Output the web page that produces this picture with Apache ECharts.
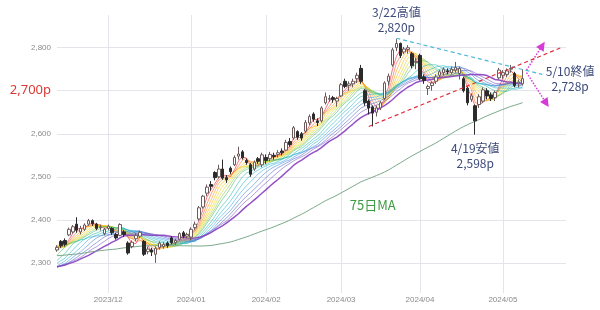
<!DOCTYPE html>
<html>
<head>
<meta charset="utf-8">
<script src="https://cdn.jsdelivr.net/npm/echarts@6/dist/echarts.min.js"></script>
<style>
html, body { margin: 0; padding: 0; background: #fff; }
#chart { width: 600px; height: 310px; }
</style>
</head>
<body>
<div id="chart"></div>
<script>
// exchange holidays that fall on weekdays inside the window
const holidays = ['2023-11-23', '2024-01-01', '2024-01-02', '2024-01-03', '2024-01-08',
  '2024-02-12', '2024-02-23', '2024-03-20', '2024-04-29', '2024-05-03', '2024-05-06'];
const firstDay = '2023-11-13';
const totalDays = 130; // 119 sessions + empty room on the right

// daily candles [open, close, low, high]
const ohlc = [
  [2330, 2336, 2326, 2341], [2350, 2340, 2335, 2353], [2352, 2343, 2338, 2357], [2365, 2378, 2362, 2382],
  [2372, 2384, 2368, 2388], [2390, 2376, 2370, 2406], [2372, 2380, 2366, 2386], [2378, 2388, 2374, 2392],
  [2390, 2398, 2386, 2402], [2398, 2391, 2386, 2401], [2390, 2380, 2376, 2393], [2382, 2384, 2375, 2389],
  [2368, 2378, 2364, 2381],
  // Dec
  [2380, 2385, 2376, 2389], [2380, 2370, 2365, 2383], [2366, 2358, 2354, 2370], [2364, 2389, 2362, 2392],
  [2372, 2366, 2360, 2376], [2346, 2323, 2319, 2350], [2338, 2348, 2334, 2352], [2356, 2364, 2350, 2369],
  [2362, 2371, 2358, 2375], [2350, 2320, 2316, 2353], [2326, 2332, 2320, 2338], [2330, 2325, 2316, 2335],
  [2320, 2334, 2300, 2338], [2336, 2346, 2331, 2350], [2338, 2343, 2333, 2348], [2346, 2340, 2335, 2350],
  [2358, 2347, 2343, 2362], [2347, 2352, 2342, 2356], [2355, 2368, 2352, 2371], [2370, 2362, 2357, 2374],
  [2362, 2366, 2357, 2370],
  // Jan
  [2360, 2378, 2352, 2383], [2382, 2390, 2376, 2396], [2402, 2428, 2398, 2432], [2430, 2455, 2426, 2458],
  [2462, 2476, 2455, 2482], [2482, 2478, 2468, 2490], [2510, 2498, 2492, 2513], [2500, 2518, 2496, 2528],
  [2518, 2497, 2493, 2540], [2498, 2493, 2486, 2504], [2520, 2512, 2506, 2524], [2528, 2545, 2525, 2550],
  [2548, 2553, 2540, 2570], [2558, 2544, 2540, 2562], [2538, 2533, 2528, 2542], [2528, 2506, 2500, 2532],
  [2518, 2534, 2514, 2538], [2542, 2536, 2530, 2546], [2528, 2551, 2522, 2556],
  // Feb
  [2545, 2538, 2530, 2552], [2542, 2552, 2536, 2558], [2550, 2547, 2540, 2556], [2552, 2556, 2545, 2562],
  [2560, 2556, 2550, 2566], [2562, 2580, 2560, 2586], [2582, 2575, 2570, 2590], [2590, 2614, 2586, 2618],
  [2605, 2592, 2586, 2608], [2600, 2590, 2584, 2604], [2606, 2626, 2602, 2632], [2625, 2640, 2620, 2645],
  [2646, 2634, 2628, 2650], [2630, 2626, 2618, 2636], [2630, 2660, 2626, 2664], [2672, 2686, 2668, 2696],
  [2680, 2682, 2674, 2690], [2684, 2680, 2672, 2688], [2676, 2682, 2663, 2686],
  // Mar
  [2688, 2714, 2685, 2718], [2722, 2710, 2706, 2728], [2712, 2716, 2700, 2722], [2716, 2722, 2708, 2728],
  [2728, 2736, 2718, 2742], [2752, 2722, 2716, 2760], [2700, 2672, 2665, 2704], [2676, 2660, 2645, 2680],
  [2662, 2648, 2617, 2666], [2650, 2660, 2640, 2666], [2660, 2672, 2655, 2676], [2682, 2718, 2678, 2722],
  [2722, 2734, 2712, 2740], [2760, 2795, 2756, 2800], [2800, 2810, 2792, 2820], [2810, 2782, 2776, 2812],
  [2790, 2797, 2785, 2802], [2796, 2800, 2786, 2806], [2786, 2758, 2752, 2790], [2766, 2768, 2750, 2776],
  // Apr
  [2782, 2728, 2724, 2786], [2732, 2724, 2716, 2738], [2705, 2710, 2690, 2714], [2712, 2718, 2700, 2722],
  [2722, 2732, 2716, 2738], [2736, 2744, 2730, 2748], [2742, 2750, 2736, 2754], [2746, 2744, 2738, 2752],
  [2742, 2750, 2738, 2756], [2748, 2754, 2742, 2767], [2740, 2752, 2726, 2756], [2728, 2700, 2696, 2732],
  [2706, 2672, 2666, 2710], [2680, 2688, 2674, 2694], [2665, 2630, 2598, 2668], [2668, 2686, 2660, 2692],
  [2676, 2702, 2672, 2708], [2700, 2688, 2680, 2706], [2690, 2682, 2676, 2696], [2684, 2696, 2676, 2700],
  [2730, 2748, 2726, 2753],
  // May
  [2736, 2742, 2728, 2748], [2738, 2746, 2732, 2752], [2750, 2752, 2742, 2760], [2740, 2712, 2708, 2744],
  [2716, 2720, 2708, 2726], [2716, 2728, 2712, 2750]
];

// closes before the first visible day (late Jul - Nov 10), only used to seed the averages
const warmupCloses = [
  2290, 2300, 2290, 2322,
  2330, 2295, 2275, 2280, 2284, 2300, 2297, 2305, 2302, 2310, 2296, 2277, 2263, 2265, 2279, 2281,
  2296, 2283, 2306, 2314, 2320, 2332,
  2346, 2357, 2356, 2362, 2355, 2369, 2368, 2400, 2406, 2430, 2444, 2437, 2428, 2394, 2389, 2390,
  2365, 2371, 2337, 2323,
  2334, 2303, 2258, 2271, 2276, 2294, 2303, 2311, 2286, 2267, 2284, 2294, 2263, 2255, 2246, 2254,
  2270, 2236, 2253, 2240, 2254,
  2296, 2342, 2372, 2331, 2327, 2341, 2336
];

const maPeriods = [3, 4, 5, 6, 7, 8, 9, 10, 12, 14, 16, 18, 20, 22, 25];
const maColors = ['#e60012', '#f0541e', '#f39800', '#f6b300', '#f0cc00', '#c5d81a', '#8dc63f', '#3fb46b',
  '#1ab39a', '#12b5c6', '#2aa4e0', '#2f7fd6', '#4a5cc8', '#6a4bbf', '#8a3fc0'];
const longPeriod = 75;

// annotated points
const highNote = { date: '2024-03-22', value: 2820, word: '高値' };
const lowNote = { date: '2024-04-19', value: 2598, word: '安値' };
const closeNote = { date: '2024-05-10', value: 2728, word: '終値' };
const maNote = { date: '2024-03-13', value: 2434, text: '75日MA' };
const markedLevel = 2700;

// hand-drawn trend lines [date, value] pairs
const resistLine = [['2024-03-22', 2822], ['2024-05-17', 2738]];
const supportLine = [['2024-03-12', 2617], ['2024-05-24', 2801]];
const arrowUp = [['2024-05-13', 2748], ['2024-05-17', 2805]];
const arrowDown = [['2024-05-13', 2742], ['2024-05-20', 2671]];

// trading-day categories
const dates = [];
let d = new Date(firstDay + 'T00:00:00Z');
while (dates.length < totalDays) {
  const s = d.toISOString().slice(0, 10);
  const wd = d.getUTCDay();
  if (wd !== 0 && wd !== 6 && holidays.indexOf(s) < 0) dates.push(s);
  d.setUTCDate(d.getUTCDate() + 1);
}
const monthStart = dates.map((s, i) => i > 0 && s.slice(5, 7) !== dates[i - 1].slice(5, 7));

const allCloses = warmupCloses.concat(ohlc.map(r => r[1]));
function sma (n) {
  const off = warmupCloses.length;
  return ohlc.map((r, i) => {
    let s = 0;
    for (let k = 0; k < n; k++) s += allCloses[off + i - k];
    return +(s / n).toFixed(2);
  });
}

const fmt = v => Math.round(v).toLocaleString('en-US');
const md = s => (+s.slice(5, 7)) + '/' + (+s.slice(8, 10));
const cjk = '"Noto Sans CJK JP", "Noto Sans", sans-serif';
const noteColor = '#3d4a7a';

const chart = echarts.init(document.getElementById('chart'));

const series = maPeriods.map((n, k) => {
  const last = k === maPeriods.length - 1;
  return {
    type: 'line',
    name: 'MA' + n,
    data: sma(n),
    symbol: 'none',
    silent: true,
    z: 2,
    lineStyle: { color: maColors[k], width: last ? 1.5 : 0.9, opacity: last ? 0.9 : 0.6 }
  };
});

series.push({
  type: 'line',
  name: 'MA75',
  data: sma(longPeriod),
  symbol: 'none',
  silent: true,
  z: 2,
  lineStyle: { color: '#7aa98a', width: 1 },
  markLine: {
    silent: true,
    symbol: ['none', 'triangle'],
    symbolSize: 9,
    label: { show: false },
    lineStyle: { color: '#d63bd6', type: 'dotted', width: 1.5 },
    data: [
      [{ coord: arrowUp[0] }, { coord: arrowUp[1] }],
      [{ coord: arrowDown[0] }, { coord: arrowDown[1] }]
    ]
  }
});

series.push({
  type: 'candlestick',
  name: 'TOPIX',
  data: ohlc,
  barWidth: 3,
  z: 3,
  itemStyle: {
    color: '#ffffff',
    color0: '#2b2b2b',
    borderColor: '#6e5c5c',
    borderColor0: '#2b2b2b',
    borderWidth: 1
  },
  markLine: {
    silent: true,
    symbol: 'none',
    label: { show: false },
    data: [
      [{ coord: resistLine[0], lineStyle: { color: '#4fb8d8', type: [4, 3], width: 1.2 } },
        { coord: resistLine[1] }],
      [{ coord: supportLine[0], lineStyle: { color: '#e2303c', type: [4, 3], width: 1.2 } },
        { coord: supportLine[1] }]
    ]
  },
  markPoint: {
    silent: true,
    symbol: 'circle',
    symbolSize: 1,
    itemStyle: { color: 'rgba(0,0,0,0)' },
    label: { show: true, color: noteColor, fontSize: 12, lineHeight: 15, fontFamily: cjk },
    data: [
      { coord: [highNote.date, highNote.value],
        label: { position: 'top', distance: 4, formatter: md(highNote.date) + highNote.word + '\n' + fmt(highNote.value) + 'p' } },
      { coord: [lowNote.date, lowNote.value],
        label: { position: 'bottom', distance: 6, formatter: md(lowNote.date) + lowNote.word + '\n' + fmt(lowNote.value) + 'p' } },
      { coord: [closeNote.date, closeNote.value],
        label: { position: 'right', distance: 47, align: 'center', formatter: md(closeNote.date) + closeNote.word + '\n' + fmt(closeNote.value) + 'p' } },
      { coord: [maNote.date, maNote.value],
        label: { position: 'inside', color: '#3f9a45', fontSize: 13, formatter: maNote.text } }
    ]
  }
});

chart.setOption({
  animation: false,
  backgroundColor: '#ffffff',
  grid: { left: 57, right: 34, top: 15, bottom: 17 },
  xAxis: {
    type: 'category',
    data: dates,
    boundaryGap: false,
    axisLine: { show: false },
    axisTick: { show: false },
    axisLabel: {
      interval: i => monthStart[i],
      showMinLabel: true,
      showMaxLabel: true,
      hideOverlap: false,
      formatter: v => v.slice(0, 7).replace('-', '/'),
      color: '#8a8a8a',
      fontSize: 8,
      margin: 3
    },
    splitLine: { show: true, interval: i => monthStart[i], lineStyle: { color: '#e4e4ea', width: 1 } }
  },
  yAxis: {
    type: 'value',
    min: 2230,
    max: 2876,
    minInterval: 100,
    maxInterval: 100,
    axisLine: { show: false },
    axisTick: { show: false },
    axisLabel: {
      showMinLabel: false,
      showMaxLabel: false,
      color: '#8a8a8a',
      fontSize: 8,
      margin: 6,
      formatter: v => v === markedLevel ? '{hl|' + fmt(v) + 'p}' : fmt(v),
      rich: { hl: { color: '#d93a34', fontSize: 13, fontFamily: 'Noto Sans, sans-serif' } }
    },
    splitLine: { show: true, showMinLine: false, showMaxLine: false, lineStyle: { color: '#e4e4ea', width: 1 } }
  },
  series: series
});
</script>
</body>
</html>
